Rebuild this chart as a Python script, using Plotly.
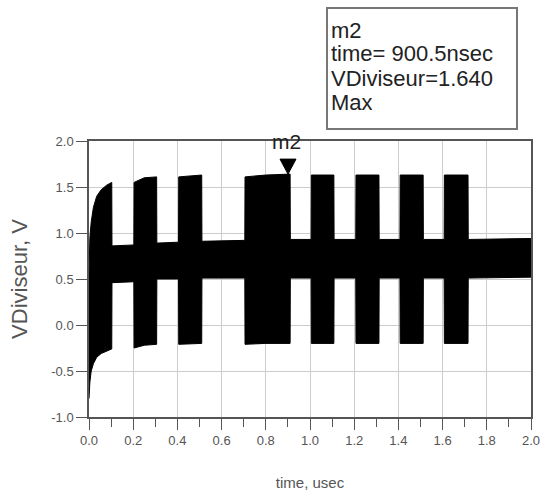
import plotly.graph_objects as go

# Envelope of the dense oscillating signal VDiviseur
env_t = [0.000, 0.004, 0.010, 0.020, 0.035, 0.055, 0.080, 0.103,
         0.104, 0.203,
         0.204, 0.250, 0.306,
         0.307, 0.405,
         0.406, 0.510,
         0.511, 0.705,
         0.706, 0.800, 0.910,
         0.911, 1.005,
         1.006, 1.108,
         1.109, 1.207,
         1.208, 1.312,
         1.313, 1.407,
         1.408, 1.512,
         1.513, 1.607,
         1.608, 1.715,
         1.716, 2.000]
env_upper = [0.55, 0.95, 1.12, 1.28, 1.40, 1.47, 1.52, 1.55,
             0.86, 0.87,
             1.55, 1.60, 1.61,
             0.89, 0.90,
             1.61, 1.63,
             0.91, 0.92,
             1.61, 1.63, 1.64,
             0.93, 0.93,
             1.63, 1.63,
             0.93, 0.93,
             1.63, 1.63,
             0.93, 0.93,
             1.63, 1.63,
             0.93, 0.93,
             1.63, 1.63,
             0.93, 0.94]
env_lower = [-0.80, -0.62, -0.50, -0.42, -0.35, -0.31, -0.28, -0.26,
             0.46, 0.47,
             -0.25, -0.22, -0.21,
             0.50, 0.50,
             -0.21, -0.20,
             0.51, 0.51,
             -0.21, -0.20, -0.20,
             0.51, 0.51,
             -0.20, -0.20,
             0.51, 0.51,
             -0.20, -0.20,
             0.51, 0.51,
             -0.20, -0.20,
             0.51, 0.51,
             -0.20, -0.20,
             0.51, 0.52]

marker_name = "m2"
marker_time = 0.9005
marker_value = 1.640
box_lines = [marker_name,
             f"time= {marker_time*1000:.1f}nsec",
             f"VDiviseur={marker_value:.3f}",
             "Max"]
x_ticks = [0.0, 0.2, 0.4, 0.6, 0.8, 1.0, 1.2, 1.4, 1.6, 1.8, 2.0]
y_ticks = [-1.0, -0.5, 0.0, 0.5, 1.0, 1.5, 2.0]

FONT = "Liberation Sans, Arial"
L, R, T, B = 89, 11, 141, 80
W, H = 542, 497
pw, ph = W - L - R, H - T - B


def px(xpix):
    return (xpix - L) / pw


def py(ypix):
    return (H - B - ypix) / ph


poly_x = env_t + env_t[::-1]
poly_y = env_upper + env_lower[::-1]

fig = go.Figure()
fig.add_trace(go.Scatter(
    x=poly_x, y=poly_y, mode="lines", fill="toself",
    fillcolor="black", line=dict(color="black", width=1),
    showlegend=False, hoverinfo="skip"))

# marker triangle (tip at the marker point)
fig.add_shape(type="path", xref="x", yref="y",
              xsizemode="pixel", ysizemode="pixel",
              xanchor=marker_time, yanchor=marker_value,
              path="M -8,15 L 8,15 L 0,0 Z",
              fillcolor="black", line=dict(color="black", width=1))
fig.add_annotation(x=marker_time, y=marker_value, xref="x", yref="y",
                   text=marker_name, showarrow=False, yshift=33, xshift=-2,
                   font=dict(family=FONT, size=21, color="#222"))

# marker readout box
fig.add_shape(type="rect", xref="paper", yref="paper",
              x0=px(327), x1=px(517), y0=py(129), y1=py(8),
              line=dict(color="#777", width=2), fillcolor="white")
line_centers = [30, 53, 78, 102]
for txt, yc in zip(box_lines, line_centers):
    fig.add_annotation(xref="paper", yref="paper", x=px(329), y=py(yc),
                       xanchor="left", yanchor="middle", text=txt,
                       showarrow=False, height=22,
                       font=dict(family=FONT, size=22, color="#222"))

axis_common = dict(
    showline=True, linecolor="#555", linewidth=1.5, mirror=True,
    showgrid=True, gridcolor="#cccccc", gridwidth=1, automargin=False,
    zeroline=False, ticks="outside", tickcolor="#555", ticklen=11,
    tickfont=dict(family=FONT, size=13, color="#555"),
)

fig.update_xaxes(range=[0, 2], tickvals=x_ticks,
                 ticktext=[f"{v:.1f}" for v in x_ticks],
                 minor=dict(dtick=0.1, ticks="outside", ticklen=8, tickcolor="#555",
                            showgrid=False),
                 title=dict(text="time, usec", standoff=30,
                            font=dict(family=FONT, size=15, color="#555")),
                 **axis_common)
fig.update_yaxes(range=[-1, 2], tickvals=y_ticks,
                 ticktext=[f"{v:.1f}" for v in y_ticks],
                 title=dict(text="VDiviseur, V", standoff=18,
                            font=dict(family=FONT, size=22, color="#555")),
                 **axis_common)

fig.update_layout(
    width=W, height=H,
    margin=dict(l=L, r=R, t=T, b=B),
    plot_bgcolor="white", paper_bgcolor="white",
    showlegend=False,
)

fig.write_html("out.html", config={"displayModeBar": False},
               post_script="document.body.style.margin='0';document.body.style.overflow='hidden';")
